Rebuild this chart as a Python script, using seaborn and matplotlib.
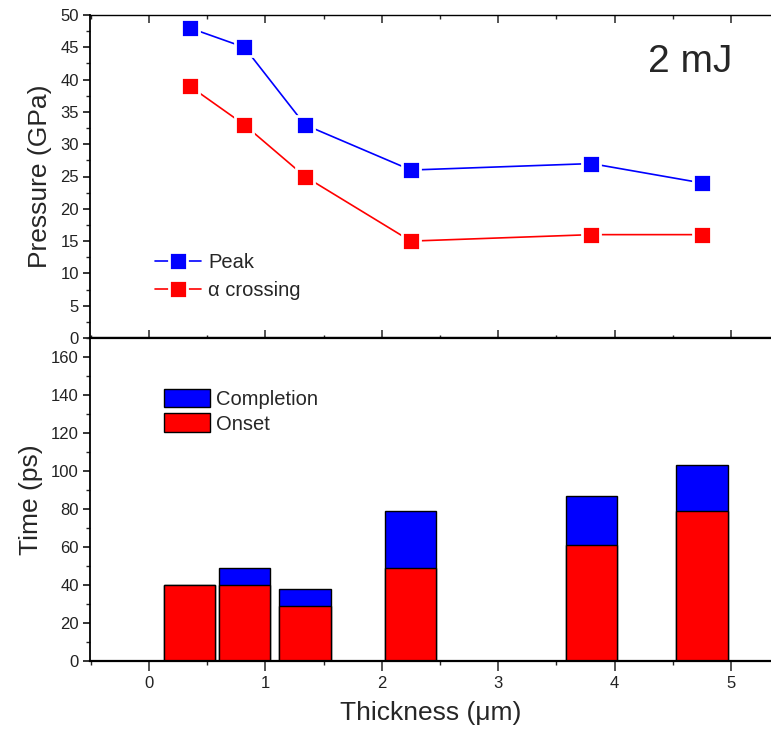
import matplotlib
matplotlib.use("Agg")
import matplotlib.pyplot as plt
from matplotlib.patches import Patch
from matplotlib.ticker import MultipleLocator
import seaborn as sns

# Sample thickness (um) for each measurement
thickness = [0.35, 0.82, 1.34, 2.25, 3.80, 4.75]

# Pressure (GPa)
peak_pressure = [48, 45, 33, 26, 27, 24]
alpha_crossing = [39, 33, 25, 15, 16, 16]

# Transition times (ps)
onset_time = [40, 40, 29, 49, 61, 79]
completion_time = [40, 49, 38, 79, 87, 103]

x_ticks = [0, 1, 2, 3, 4, 5]
energy_label = "2 mJ"

BLUE = "#0000ff"
RED = "#ff0000"

sns.set_theme(style="ticks")
plt.rcParams["font.family"] = ["Liberation Sans", "DejaVu Sans"]

W, H = 771, 730
fig = plt.figure(figsize=(W / 100, H / 100), dpi=100)
left = 90 / W
width = (W - 90) / W
ax1 = fig.add_axes([left, 1 - 338 / H, width, 323 / H])
ax2 = fig.add_axes([left, 1 - 661 / H, width, 323 / H])

# --- Upper panel: pressure vs thickness ---
marker_style = dict(marker="s", markersize=12.5, markeredgewidth=2.0,
                    markeredgecolor="white", linewidth=1.2)
sns.lineplot(x=thickness, y=peak_pressure, ax=ax1, color=BLUE,
             label="Peak", **marker_style)
sns.lineplot(x=thickness, y=alpha_crossing, ax=ax1, color=RED,
             label="\u03b1 crossing", **marker_style)
ax1.set_ylim(0, 50)
ax1.set_ylabel("Pressure (GPa)", fontsize=19, labelpad=6)
ax1.set_xlabel("")
ax1.text(0.882, 0.8235, energy_label, transform=ax1.transAxes, fontsize=28,
         ha="center", va="baseline")
ax1.legend(loc="upper left", bbox_to_anchor=(0.095, 0.262),
           frameon=False, fontsize=14.5, handlelength=2.3,
           handletextpad=0.35, labelspacing=0.45, borderpad=0,
           borderaxespad=0, numpoints=1)

# --- Lower panel: onset / completion times ---
sns.barplot(x=thickness, y=completion_time, ax=ax2, native_scale=True,
            color=BLUE, saturation=1, width=0.44 / 0.47, errorbar=None,
            edgecolor="black", linewidth=1)
sns.barplot(x=thickness, y=onset_time, ax=ax2, native_scale=True,
            color=RED, saturation=1, width=0.44 / 0.47, errorbar=None,
            edgecolor="black", linewidth=1)
ax2.set_ylim(0, 170)
ax2.set_ylabel("Time (ps)", fontsize=19, labelpad=6)
ax2.set_xlabel("Thickness (\u03bcm)", fontsize=19, labelpad=7)
handles = [Patch(facecolor=BLUE, edgecolor="black", linewidth=1),
           Patch(facecolor=RED, edgecolor="black", linewidth=1)]
ax2.legend(handles, ["Completion", "Onset"], loc="upper left",
           bbox_to_anchor=(0.1087, 0.843), frameon=False, fontsize=14.5,
           handlelength=2.3, handleheight=1.05, handletextpad=0.3,
           labelspacing=0.22, borderpad=0, borderaxespad=0)

# --- Shared axis styling ---
for ax in (ax1, ax2):
    ax.set_xlim(-0.506, 5.343)
    ax.set_xticks(x_ticks)
    ax.xaxis.set_minor_locator(MultipleLocator(0.5))
    ax.spines["right"].set_visible(False)
    ax.spines["left"].set_linewidth(1.3)
    ax.spines["bottom"].set_linewidth(1.6)
    for s in ax.spines.values():
        s.set_color("black")
    ax.tick_params(axis="y", which="major", direction="out", length=5,
                   width=1.1, labelsize=12, pad=3, colors="black",
                   labelcolor="#222222")
    ax.tick_params(axis="y", which="minor", direction="out", length=3,
                   width=1.0)

ax1.yaxis.set_major_locator(MultipleLocator(5))
ax1.yaxis.set_minor_locator(MultipleLocator(2.5))
ax1.spines["top"].set_linewidth(1.0)
ax1.tick_params(axis="x", which="major", direction="inout", length=11,
                width=1.1, bottom=True, top=True, labelbottom=False)
ax1.tick_params(axis="x", which="minor", direction="inout", length=4,
                width=1.0, bottom=True, top=True)
# top-edge ticks point inward only
for t in ax1.xaxis.get_major_ticks():
    t.tick2line.set_marker(3)
    t.tick2line.set_markersize(6)
for t in ax1.xaxis.get_minor_ticks():
    t.tick2line.set_marker(3)
    t.tick2line.set_markersize(3)

ax2.yaxis.set_major_locator(MultipleLocator(20))
ax2.yaxis.set_minor_locator(MultipleLocator(10))
ax2.spines["top"].set_linewidth(1.6)
ax2.tick_params(axis="x", which="major", direction="out", length=7,
                width=1.1, labelsize=12, pad=4, top=False,
                labelcolor="#222222")
ax2.tick_params(axis="x", which="minor", direction="out", length=3,
                width=1.0, top=False)

fig.savefig("out.png", dpi=100)
